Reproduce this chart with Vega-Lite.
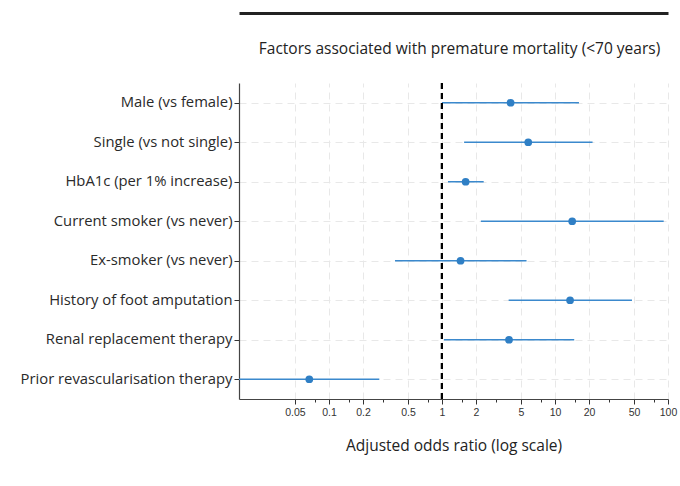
{
  "$schema": "https://vega.github.io/schema/vega-lite/v6.json",
  "autosize": {"type": "none"},
  "padding": {"left": 239, "top": 83, "right": 12, "bottom": 87},
  "width": 429,
  "height": 316,
  "background": "white",
  "title": {
    "text": "Factors associated with premature mortality (<70 years)",
    "font": "Open Sans",
    "fontSize": 15.5,
    "fontWeight": "normal",
    "color": "#222222",
    "offset": -44,
    "dx": 6
  },
  "data": {
    "values": [
      {"factor": "Male (vs female)", "or": 4.05, "lo": 1.0, "hi": 16.3},
      {"factor": "Single (vs not single)", "or": 5.8, "lo": 1.57, "hi": 21.5},
      {"factor": "HbA1c (per 1% increase)", "or": 1.62, "lo": 1.13, "hi": 2.34},
      {"factor": "Current smoker (vs never)", "or": 14.2, "lo": 2.21, "hi": 91.6},
      {"factor": "Ex-smoker (vs never)", "or": 1.46, "lo": 0.384, "hi": 5.6},
      {"factor": "History of foot amputation", "or": 13.6, "lo": 3.89, "hi": 48},
      {"factor": "Renal replacement therapy", "or": 3.92, "lo": 1.04, "hi": 14.8},
      {"factor": "Prior revascularisation therapy", "or": 0.067, "lo": 0.012, "hi": 0.279}
    ]
  },
  "encoding": {
    "y": {
      "field": "factor",
      "type": "nominal",
      "sort": null,
      "scale": {"type": "point", "padding": 0.5},
      "axis": {
        "title": null,
        "labelFont": "Open Sans",
        "labelFontSize": 14.8,
        "labelColor": "#2a2a2a",
        "labelPadding": 2,
        "labelLimit": 400,
        "tickSize": 5,
        "tickColor": "#333333",
        "domainColor": "#444444",
        "domainWidth": 1.2,
        "grid": true,
        "gridColor": "#e8e8e8",
        "gridDash": [7, 5],
        "gridWidth": 1
      }
    }
  },
  "layer": [
    {
      "mark": {"type": "rule", "color": "#3b89cd", "strokeWidth": 1.3, "clip": true},
      "encoding": {
        "x": {
          "field": "lo",
          "type": "quantitative",
          "scale": {"type": "log", "domain": [0.016, 100], "nice": false},
          "axis": {
            "title": "Adjusted odds ratio (log scale)",
            "titleFont": "Open Sans",
            "titleFontSize": 15.5,
            "titleFontWeight": "normal",
            "titleColor": "#222222",
            "titlePadding": 21,
            "values": [0.05, 0.075, 0.1, 0.15, 0.2, 0.3, 0.5, 0.75, 1, 1.5, 2, 3, 5, 7.5, 10, 15, 20, 30, 50, 75, 100],
            "labelExpr": "indexof([0.05, 0.1, 0.2, 0.5, 1, 2, 5, 10, 20, 50, 100], datum.value) >= 0 ? format(datum.value, '~g') : ''",
            "labelFont": "Liberation Sans",
            "labelFontSize": 10.5,
            "labelColor": "#333333",
            "labelPadding": 3,
            "labelFlush": false,
            "labelOverlap": false,
            "tickSize": {"condition": {"test": "indexof([0.05, 0.1, 0.2, 0.5, 1, 2, 5, 10, 20, 50, 100], datum.value) >= 0", "value": 5}, "value": 3},
            "tickColor": "#333333",
            "domainColor": "#444444",
            "domainWidth": 1.2,
            "grid": true,
            "gridColor": "#e8e8e8",
            "gridOpacity": {"condition": {"test": "indexof([0.05, 0.1, 0.2, 0.5, 1, 2, 5, 10, 20, 50, 100], datum.value) >= 0", "value": 1}, "value": 0},
            "gridDash": [7, 5],
            "gridWidth": 1
          }
        },
        "x2": {"field": "hi"}
      }
    },
    {
      "mark": {"type": "rule", "color": "black", "strokeWidth": 2, "strokeDash": [6, 4]},
      "encoding": {
        "x": {
          "datum": 1,
          "type": "quantitative",
          "axis": {
            "orient": "top",
            "offset": 70,
            "title": null,
            "labels": false,
            "ticks": false,
            "grid": false,
            "domain": true,
            "domainWidth": 3,
            "domainColor": "#222222"
          }
        },
        "y": null
      }
    },
    {
      "mark": {"type": "circle", "color": "#2f7fc5", "opacity": 1, "size": 60},
      "encoding": {
        "x": {"field": "or", "type": "quantitative", "axis": null}
      }
    }
  ],
  "resolve": {"axis": {"x": "independent"}},
  "config": {
    "view": {"stroke": null}
  }
}
